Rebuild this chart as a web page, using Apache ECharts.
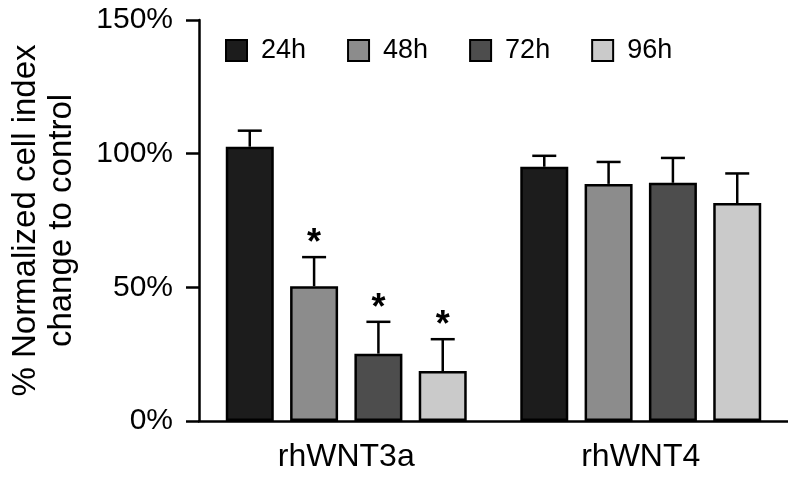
<!DOCTYPE html>
<html><head><meta charset="utf-8">
<script src="https://cdn.jsdelivr.net/npm/echarts@6/dist/echarts.min.js"></script>
<style>html,body{margin:0;padding:0;background:#fff}#c{width:788px;height:484px}</style>
</head><body><div id="c"></div>
<script>
var categories = ['rhWNT3a', 'rhWNT4'];
var seriesNames = ['24h', '48h', '72h', '96h'];
var mean24 = [102.6, 95.1];
var mean48 = [50.4, 88.7];
var mean72 = [25.2, 89.1];
var mean96 = [18.7, 81.5];
var upper24 = [108.6, 99.2];
var upper48 = [61.3, 96.9];
var upper72 = [37.1, 98.4];
var upper96 = [30.6, 92.6];
var sig24 = [0, 0];
var sig48 = [1, 0];
var sig72 = [1, 0];
var sig96 = [1, 0];
var yTicks = [0, 50, 100, 150];

var colors = ['#1c1c1c', '#8c8c8c', '#4d4d4d', '#cacaca'];
var means = [mean24, mean48, mean72, mean96];
var uppers = [upper24, upper48, upper72, upper96];
var sigs = [sig24, sig48, sig72, sig96];
var FONT = '"Liberation Sans", Arial, Helvetica, sans-serif';
var BAR_W = 48, BAR_GAP = 0.34;

var series = [];
seriesNames.forEach(function (n, i) {
  series.push({
    name: n, type: 'bar', data: means[i], barWidth: BAR_W, barGap: (BAR_GAP * 100) + '%',
    itemStyle: { color: colors[i], borderColor: '#000', borderWidth: 2.5 }, z: 2
  });
});
var errData = [];
seriesNames.forEach(function (n, i) {
  categories.forEach(function (c, j) {
    errData.push([j, i, uppers[i][j], means[i][j], sigs[i][j]]);
  });
});
series.push({
  type: 'custom', name: 'err', z: 3, silent: true,
  encode: { x: 0, y: 2 },
  data: errData,
  renderItem: function (params, api) {
    var cat = api.value(0), si = api.value(1);
    var step = BAR_W * (1 + BAR_GAP);
    var off = (si - 1.5) * step;
    var top = api.coord([cat, api.value(2)]);
    var base = api.coord([cat, api.value(3)]);
    var x = top[0] + off;
    var children = [
      { type: 'line', shape: { x1: x, y1: base[1], x2: x, y2: top[1] }, style: { stroke: '#000', lineWidth: 2.5 } },
      { type: 'line', shape: { x1: x - 12, y1: top[1], x2: x + 12, y2: top[1] }, style: { stroke: '#000', lineWidth: 2.5 } }
    ];
    if (api.value(4)) {
      children.push({ type: 'text', style: { text: '*', x: x, y: top[1] + 5, textAlign: 'center', textVerticalAlign: 'bottom', font: 'bold 36px ' + FONT, fill: '#000' } });
    }
    return { type: 'group', children: children };
  }
});

var chart = echarts.init(document.getElementById('c'), null, { renderer: 'canvas' });
chart.setOption({
  animation: false,
  backgroundColor: '#fff',
  textStyle: { fontFamily: FONT },
  legend: {
    data: seriesNames, left: 225, top: 37, padding: 0, itemWidth: 21, itemHeight: 21, itemGap: 41, icon: 'rect',
    textStyle: { fontSize: 27, color: '#000', fontFamily: FONT, padding: [0, 0, 0, 9] }
  },
  grid: { left: 198, right: -10, top: 20, bottom: 63 },
  xAxis: {
    type: 'category', data: categories,
    axisLine: { lineStyle: { color: '#000', width: 2.5 } },
    axisTick: { alignWithLabel: true, length: 12, lineStyle: { color: '#000', width: 2.5 } },
    axisLabel: { fontSize: 32, color: '#000', margin: 20, fontFamily: FONT }
  },
  yAxis: {
    type: 'value', min: 0, max: 150, interval: 50,
    name: '% Normalized cell index\nchange to control',
    nameLocation: 'middle', nameRotate: 90, nameGap: 119,
    nameTextStyle: { fontSize: 33, color: '#000', lineHeight: 36, fontFamily: FONT },
    axisLine: { show: true, lineStyle: { color: '#000', width: 2.5 } },
    axisTick: { show: true, length: 13, lineStyle: { color: '#000', width: 2.5 } },
    splitLine: { show: false },
    axisLabel: { fontSize: 30, color: '#000', margin: 26, fontFamily: FONT, formatter: function (v) { return yTicks.indexOf(v) >= 0 ? v + '%' : ''; } }
  },
  series: series
});
</script></body></html>
